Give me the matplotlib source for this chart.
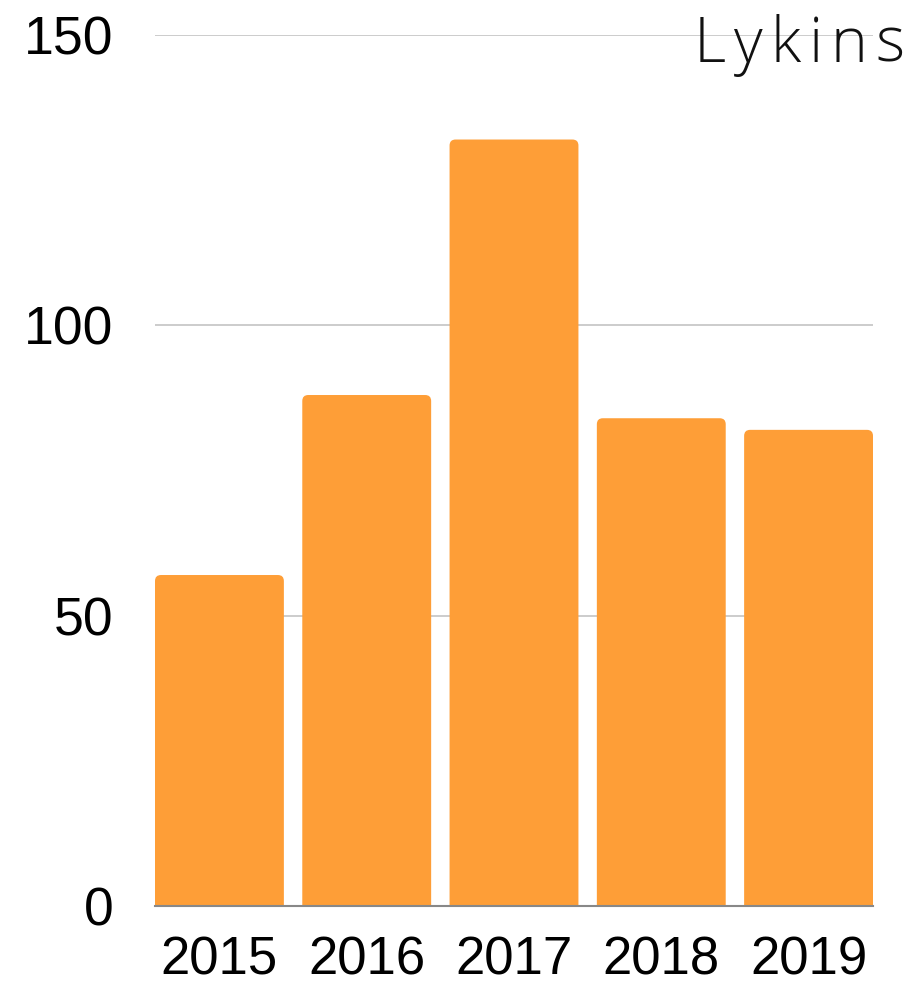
import matplotlib
matplotlib.use("Agg")
import matplotlib.pyplot as plt
from matplotlib.patches import FancyBboxPatch

years = ["2015", "2016", "2017", "2018", "2019"]
values = [57, 88, 132, 84, 82]
yticks = [0, 50, 100, 150]
title = "Lykins"

W, H, DPI = 912, 986, 100
fig = plt.figure(figsize=(W / DPI, H / DPI), dpi=DPI)
ax = fig.add_axes([155 / W, 80 / H, (873 - 155) / W, (906 - 35) / H])

bar_color = "#FE9E37"
width = 0.875
x = list(range(len(years)))
bars = ax.bar(x, values, width=width, color=bar_color, zorder=2)
ax.set_xlim(-0.4375, len(years) - 1 + 0.4375)
ax.set_ylim(0, 150)

# rounded-corner replacements built from the bar geometry
fig.canvas.draw()
px_per_x = ax.transData.transform((1, 0))[0] - ax.transData.transform((0, 0))[0]
px_per_y = ax.transData.transform((0, 1))[1] - ax.transData.transform((0, 0))[1]
aspect = px_per_x / px_per_y
r_px = 6
for b in bars:
    bx, bw, bh = b.get_x(), b.get_width(), b.get_height()
    p = FancyBboxPatch((bx, -5), bw, bh + 5,
                       boxstyle=f"round,pad=0,rounding_size={r_px / px_per_x}",
                       mutation_aspect=aspect, facecolor=bar_color,
                       edgecolor="none", zorder=2)
    ax.add_patch(p)
    b.remove()

ax.set_yticks(yticks)
ax.set_yticklabels([str(t) for t in yticks])
ax.set_xticks(x)
ax.set_xticklabels(years)
for lab in ax.get_yticklabels():
    lab.set_fontfamily("Liberation Sans")
    lab.set_fontsize(38.5)
for lab in ax.get_xticklabels():
    lab.set_fontfamily("Liberation Sans")
    lab.set_fontsize(38)
ax.tick_params(axis="y", length=0, pad=30)
ax.tick_params(axis="x", length=0, pad=21)

for y in yticks[1:]:
    ax.axhline(y, color="#C8C8C8", lw=1.3, zorder=1)
for s in ["top", "right", "left"]:
    ax.spines[s].set_visible(False)
ax.spines["bottom"].set_color("#888888")
ax.spines["bottom"].set_linewidth(1.5)
ax.spines["bottom"].set_zorder(3)

# letter-spaced title at top right
fig.canvas.draw()
renderer = fig.canvas.get_renderer()
spacing = 8
right_px = 905
texts = []
widths = []
for ch in title:
    t = fig.text(0, 0, ch, fontsize=45, fontfamily="Open Sans", fontweight="light",
                 color="#111111", va="baseline", ha="left", zorder=5)
    bb = t.get_window_extent(renderer)
    widths.append(bb.width)
    texts.append(t)
total = sum(widths) + spacing * (len(title) - 1)
cur = right_px - total
base_y = H - 62
for t, w in zip(texts, widths):
    t.set_position((cur / W, base_y / H))
    cur += w + spacing

fig.savefig("out.png", dpi=DPI)
